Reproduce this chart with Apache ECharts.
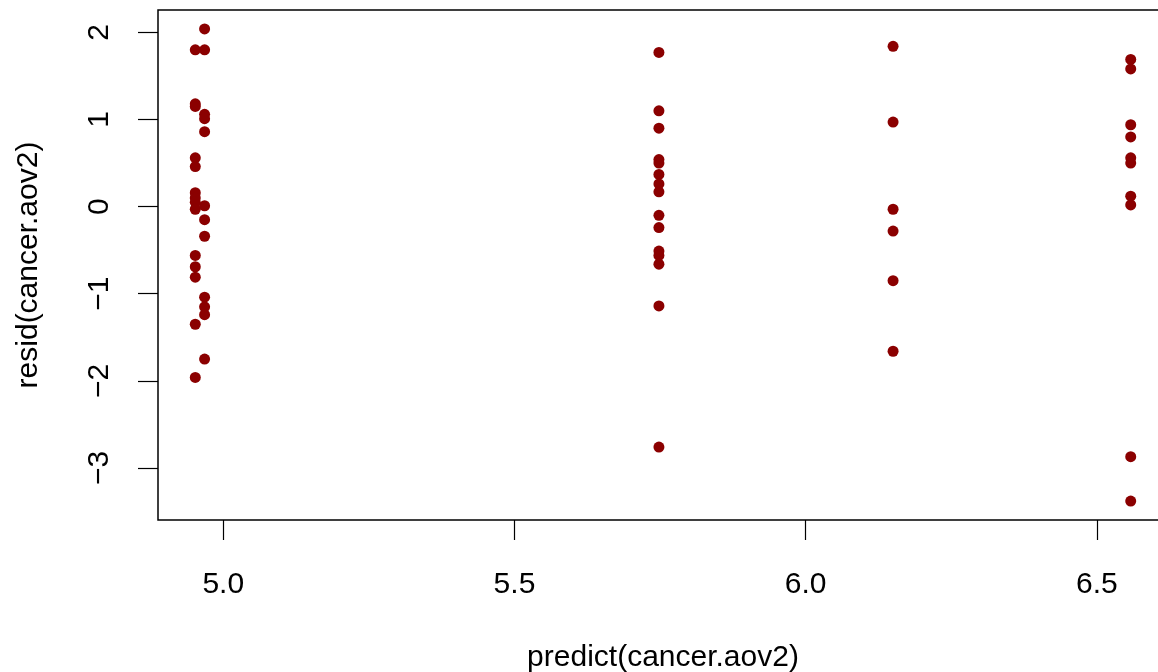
<!DOCTYPE html>
<html>
<head>
<meta charset="utf-8">
<script src="https://cdn.jsdelivr.net/npm/echarts@6/dist/echarts.min.js"></script>
<style>
html,body{margin:0;padding:0;background:#fff;overflow:hidden;width:1158px;height:672px;}
#c{width:1180px;height:672px;}
</style>
</head>
<body>
<div id="c"></div>
<script>
// Predicted (fitted) values, one per group
const predicted = [4.952, 4.968, 5.748, 6.150, 6.558];
// Residuals for each group
const resid1 = [1.80, 1.18, 1.15, 0.56, 0.46, 0.16, 0.10, 0.05, -0.03, -0.56, -0.69, -0.81, -1.35, -1.96];
const resid2 = [2.04, 1.80, 1.06, 1.01, 0.86, 0.01, -0.15, -0.34, -1.04, -1.15, -1.24, -1.75];
const resid3 = [1.77, 1.10, 0.90, 0.54, 0.50, 0.37, 0.26, 0.17, -0.10, -0.24, -0.51, -0.56, -0.66, -1.14, -2.76];
const resid4 = [1.84, 0.97, -0.03, -0.28, -0.85, -1.66];
const resid5 = [1.69, 1.58, 0.94, 0.80, 0.56, 0.50, 0.12, 0.02, -2.87, -3.38];
// Tick values
const xTicks = [5.0, 5.5, 6.0, 6.5];
const yTicks = [-3, -2, -1, 0, 1, 2];
const xTitle = 'predict(cancer.aov2)';
const yTitle = 'resid(cancer.aov2)';

const groups = [resid1, resid2, resid3, resid4, resid5];
const points = [];
groups.forEach((g, i) => g.forEach(r => points.push([predicted[i], r])));

const FONT = '"Liberation Sans", Arial, Helvetica, sans-serif';
const FS = 30;
const chart = echarts.init(document.getElementById('c'), null, {renderer: 'canvas'});
chart.setOption({
  animation: false,
  backgroundColor: '#ffffff',
  grid: {left: 158, right: 12, top: 10, bottom: 152, show: true, borderColor: '#000', borderWidth: 1.5,
    containLabel: false, outerBoundsMode: 'none'},
  xAxis: {
    type: 'value', min: 4.888, max: 6.622,
    name: xTitle, nameLocation: 'middle', nameGap: 123,
    nameTextStyle: {fontFamily: FONT, fontSize: FS, color: '#000'},
    axisLine: {show: false, onZero: false},
    splitLine: {show: false},
    axisTick: {show: true, inside: false, length: 20, customValues: xTicks, lineStyle: {color: '#000', width: 1.2}},
    axisLabel: {customValues: xTicks, margin: 50, fontFamily: FONT, fontSize: FS, color: '#000',
      formatter: v => Number(v).toFixed(1)}
  },
  yAxis: {
    type: 'value', min: -3.597, max: 2.257,
    name: yTitle, nameLocation: 'middle', nameGap: 114,
    nameTextStyle: {fontFamily: FONT, fontSize: FS, color: '#000'},
    axisLine: {show: false, onZero: false},
    splitLine: {show: false},
    axisTick: {show: true, inside: false, length: 20, customValues: yTicks, lineStyle: {color: '#000', width: 1.2}},
    axisLabel: {customValues: yTicks, rotate: 90, margin: 43, fontFamily: FONT, fontSize: FS, color: '#000',
      formatter: v => String(v).replace('-', '\u2212')}
  },
  series: [{
    type: 'scatter',
    data: points,
    symbol: 'circle',
    symbolSize: 11,
    itemStyle: {color: '#8b0000', opacity: 1},
    emphasis: {disabled: true}
  }]
});
</script>
</body>
</html>
